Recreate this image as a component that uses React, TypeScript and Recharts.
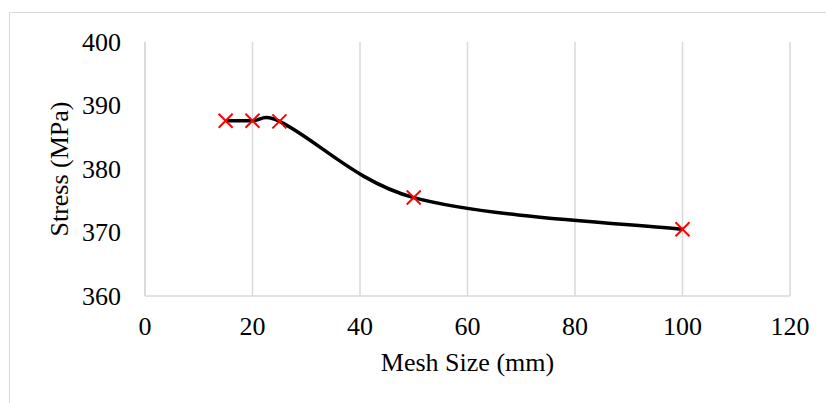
import React from 'react';
import { LineChart, Line, XAxis, YAxis, CartesianGrid } from 'recharts';

const meshSizes = [15, 20, 25, 50, 100];
const stressValues = [387.6, 387.6, 387.5, 375.5, 370.5];
const xTicks = [0, 20, 40, 60, 80, 100, 120];
const yTicks = [360, 370, 380, 390, 400];

const data = meshSizes.map((m, i) => ({ mesh: m, stress: stressValues[i] }));

const FONT = '"Liberation Serif", "Times New Roman", serif';

const dist = (a: [number, number], b: [number, number]) => Math.hypot(a[0] - b[0], a[1] - b[1]);

// Excel-like smoothed line (blend of uniform and chord-weighted Bezier tangents)
const excelCurve = (context: any) => {
  let pts: [number, number][] = [];
  return {
    areaStart() {},
    areaEnd() {},
    lineStart() {
      pts = [];
    },
    point(x: number, y: number) {
      pts.push([+x, +y]);
    },
    lineEnd() {
      if (!pts.length) return;
      context.moveTo(pts[0][0], pts[0][1]);
      for (let i = 0; i < pts.length - 1; i++) {
        const p0 = pts[i - 1] || pts[i];
        const p1 = pts[i];
        const p2 = pts[i + 1];
        const p3 = pts[i + 2] || p2;
        const d01 = dist(p0, p1);
        const d12 = dist(p1, p2);
        const d23 = dist(p2, p3);
        const first = i === 0;
        const last = i + 2 >= pts.length;
        const w1 = first ? 1 / 6 : (1 / 6 + d12 / (d01 + d12) / 3) / 2;
        const w2 = last ? 1 / 6 : (1 / 6 + d12 / (d12 + d23) / 3) / 2;
        const c1x = p1[0] + (p2[0] - p0[0]) * w1;
        const c1y = p1[1] + (p2[1] - p0[1]) * w1;
        const c2x = p2[0] - (p3[0] - p1[0]) * w2;
        const c2y = p2[1] - (p3[1] - p1[1]) * w2;
        context.bezierCurveTo(c1x, c1y, c2x, c2y, p2[0], p2[1]);
      }
    },
  };
};

const CrossDot = (props: any) => {
  const { cx, cy } = props;
  if (cx == null || cy == null) return null;
  const s = 7;
  return (
    <g>
      <line x1={cx - s} y1={cy - s} x2={cx + s} y2={cy + s} stroke="#ff0000" strokeWidth={2} />
      <line x1={cx - s} y1={cy + s} x2={cx + s} y2={cy - s} stroke="#ff0000" strokeWidth={2} />
    </g>
  );
};

const XTick = (props: any) => {
  const { x, y, payload } = props;
  return (
    <text x={x} y={y + 39} textAnchor="middle" fontFamily={FONT} fontSize={26} fill="#000">
      {payload.value}
    </text>
  );
};

const YTick = (props: any) => {
  const { x, y, payload } = props;
  return (
    <text x={x} y={y + 8.5} textAnchor="end" fontFamily={FONT} fontSize={26} fill="#000">
      {payload.value}
    </text>
  );
};

const XTitle = (props: any) => {
  const { viewBox } = props;
  const cx = viewBox.x + viewBox.width / 2;
  return (
    <text x={cx} y={371} textAnchor="middle" fontFamily={FONT} fontSize={26} fill="#000">
      Mesh Size (mm)
    </text>
  );
};

const YTitle = (props: any) => {
  const { viewBox } = props;
  const cy = viewBox.y + viewBox.height / 2;
  const cx = 68;
  return (
    <text
      x={cx}
      y={cy}
      textAnchor="middle"
      transform={`rotate(-90, ${cx}, ${cy})`}
      fontFamily={FONT}
      fontSize={26}
      fill="#000"
    >
      Stress (MPa)
    </text>
  );
};

export default function App() {
  return (
    <div style={{ position: 'absolute', left: 0, top: 0, width: 826, height: 403, background: '#fff' }}>
      <div
        style={{
          position: 'absolute',
          left: 9,
          top: 12,
          width: 817,
          height: 391,
          borderTop: '1px solid #d9d9d9',
          borderLeft: '1px solid #d9d9d9',
          boxSizing: 'border-box',
        }}
      />
      <div style={{ position: 'absolute', left: 0, top: 0 }}>
        <LineChart
          width={826}
          height={403}
          data={data}
          margin={{ top: 42, right: 36, bottom: 47, left: 0 }}
        >
          <CartesianGrid horizontal={false} vertical stroke="#d9d9d9" strokeWidth={1.5} />
          <XAxis
            dataKey="mesh"
            type="number"
            domain={[0, 120]}
            ticks={xTicks}
            interval={0}
            height={60}
            axisLine={{ stroke: '#d9d9d9', strokeWidth: 1.5 }}
            tickLine={false}
            tickSize={0}
            tickMargin={0}
            tick={<XTick />}
            label={<XTitle />}
          />
          <YAxis
            type="number"
            domain={[360, 400]}
            ticks={yTicks}
            interval={0}
            width={145}
            axisLine={{ stroke: '#d9d9d9', strokeWidth: 1.5 }}
            tickLine={false}
            tickSize={0}
            tickMargin={24}
            tick={<YTick />}
            label={<YTitle />}
          />
          <Line
            dataKey="stress"
            type={excelCurve as any}
            stroke="#000"
            strokeWidth={3.5}
            dot={<CrossDot />}
            activeDot={false}
            isAnimationActive={false}
          />
        </LineChart>
      </div>
    </div>
  );
}
